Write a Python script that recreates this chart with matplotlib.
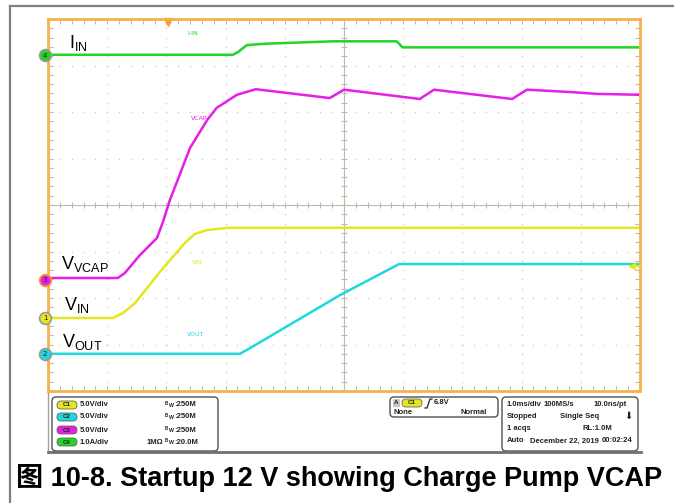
import numpy as np
import matplotlib.pyplot as plt
from matplotlib.patches import FancyBboxPatch

W, H = 674, 503

# time in divisions (1.0 ms/div), level in divisions from screen centre
iin_t = [0, 3.12, 3.21, 3.36, 3.70, 4.81, 5.89, 5.99, 10]
iin_v = [3.23, 3.23, 3.29, 3.44, 3.47, 3.52, 3.52, 3.39, 3.39]

vcap_t = [0, 1.18, 1.30, 1.55, 1.84, 1.94, 2.06, 2.23, 2.40, 2.69, 2.85, 3.19, 3.51,
          4.76, 5.00, 6.28, 6.52, 7.84, 8.09, 8.82, 9.27, 10]
vcap_v = [-1.57, -1.57, -1.46, -1.08, -0.71, -0.37, 0.11, 0.67, 1.23, 1.83, 2.09, 2.37, 2.49,
          2.30, 2.48, 2.28, 2.48, 2.28, 2.48, 2.43, 2.39, 2.37]

vin_t = [0, 1.10, 1.27, 1.47, 1.89, 2.31, 2.48, 2.69, 3.04, 10]
vin_v = [-2.43, -2.43, -2.32, -2.11, -1.44, -0.82, -0.62, -0.54, -0.49, -0.49]

vout_t = [0, 3.24, 3.41, 4.93, 5.93, 10]
vout_v = [-3.20, -3.20, -3.08, -1.94, -1.27, -1.27]

green = '#22d522'
magenta = '#e61ee6'
yellow = '#e6e61e'
cyan = '#1ed8e0'
grid_c = '#c2bbad'

fig = plt.figure(figsize=(W / 100, H / 100), dpi=100)

ax = fig.add_axes([48 / W, 1 - 391 / H, 592 / W, 372 / H])
ax.set_xlim(0, 10)
ax.set_ylim(-4, 4)
ax.set_xticks(np.arange(0, 10.01, 0.2))
ax.set_yticks(np.arange(-4, 4.01, 0.2))
ax.tick_params(direction='in', length=3.5, width=0.8, color=grid_c, top=True, right=True,
               labelbottom=False, labelleft=False)
for s in ax.spines.values():
    s.set_color('#f5b24a')
    s.set_linewidth(2)

# dotted graticule
for gx in range(1, 10):
    if gx == 5:
        continue
    ax.plot(np.full(41, gx), np.linspace(-4, 4, 41), ls='none', marker='s', ms=1.0, mew=0, color='#d2ccc0')
for gy in range(-3, 4):
    if gy == 0:
        continue
    ax.plot(np.linspace(0, 10, 51), np.full(51, gy), ls='none', marker='s', ms=1.0, mew=0, color='#d2ccc0')
ax.axvline(5, color=grid_c, lw=0.8)
ax.axhline(0, color=grid_c, lw=0.8)
ax.plot(np.linspace(0, 10, 51), np.zeros(51), ls='none', marker='|', ms=5, mew=0.8, color=grid_c)
ax.plot(np.full(41, 5), np.linspace(-4, 4, 41), ls='none', marker='_', ms=5, mew=0.8, color=grid_c)

ax.plot(iin_t, iin_v, color=green, lw=1.8)
ax.plot(vcap_t, vcap_v, color=magenta, lw=1.8)
ax.plot(vin_t, vin_v, color=yellow, lw=1.8)
ax.plot(vout_t, vout_v, color=cyan, lw=1.8)

ax.plot(2.03, 3.93, marker='v', ms=6, color='#f5a030', clip_on=False)

# overlay in pixel coordinates
ov = fig.add_axes([0, 0, 1, 1], zorder=3)
ov.set_xlim(0, W)
ov.set_ylim(H, 0)
ov.axis('off')

ov.plot([10, 10], [6, H], color='#808080', lw=1.6)
ov.plot([10, W], [6, 6], color='#808080', lw=1.6)

# trigger level arrow
ov.plot([630, 640], [266, 266], color=yellow, lw=1.5)
ov.plot(632, 266, marker='<', ms=5, color=yellow)

# channel markers
for num, yy, col, ec in [('4', 55, green, '#9a9a9a'), ('3', 280, magenta, '#f5a030'),
                         ('1', 318, yellow, '#9a9a9a'), ('2', 354, cyan, '#9a9a9a')]:
    ov.plot(45, yy, marker='o', ms=8.5, mfc=col, mec=ec, mew=1.2)
    ov.text(45, yy + 0.5, num, fontsize=5, ha='center', va='center', color='#222')

lab = dict(family='Liberation Sans', fontsize=13, color='black', ha='left', va='baseline')
ov.text(69, 48, r'$\mathregular{I_{IN}}$', **lab)
ov.text(61, 269, r'$\mathregular{V_{VCAP}}$', **lab)
ov.text(64, 310, r'$\mathregular{V_{IN}}$', **lab)
ov.text(62, 347, r'$\mathregular{V_{OUT}}$', **lab)

small = dict(fontsize=4.5, ha='center', va='center')
ov.text(193, 33, 'I-IN', color=green, **small)
ov.text(199, 118, 'VCAP', color=magenta, **small)
ov.text(197, 262, 'VIN', color=yellow, **small)
ov.text(196, 334, 'VOUT', color=cyan, **small)

# status panel
ov.plot([48, 48], [393, 452], color='#a0a0a0', lw=1)
ov.plot([48, 641], [452, 452], color='#707070', lw=2)
for x0, y0, w, h in [(52, 397, 166, 54), (390, 397, 108, 20), (502, 397, 136, 54)]:
    ov.add_patch(FancyBboxPatch((x0, y0), w, h, boxstyle='round,pad=0,rounding_size=4',
                                fc='white', ec='#505050', lw=1))

pt = dict(fontsize=5.5, fontweight='bold', family='Liberation Sans', va='center', color='#222')
rows = [(405, yellow, 'C1', '5.0V/div', '', '250M'),
        (417, cyan, 'C2', '5.0V/div', '', '250M'),
        (430, magenta, 'C3', '5.0V/div', '', '250M'),
        (442, green, 'C4', '1.0A/div', '1MΩ', '20.0M')]
for yy, col, ch, scale, imp, bw in rows:
    ov.add_patch(FancyBboxPatch((57, yy - 4), 20, 8, boxstyle='round,pad=0,rounding_size=4',
                                fc=col, ec='#666', lw=0.6))
    ov.text(67, yy, ch, ha='center', **dict(pt, fontsize=4.5))
    ov.text(80, yy, scale, ha='left', **pt)
    if imp:
        ov.text(147, yy, imp, ha='left', **pt)
    ov.text(165, yy - 1.5, 'B', ha='left', **dict(pt, fontsize=3.3))
    ov.text(168.8, yy + 0.8, 'W', ha='left', **dict(pt, fontsize=3.8))
    ov.text(174.3, yy, ':' + bw, ha='left', **pt)

ov.add_patch(FancyBboxPatch((393, 399), 7, 8, boxstyle='round,pad=0,rounding_size=1',
                            fc='#c8c8c8', ec='none'))
ov.text(396.5, 403, 'A', ha='center', **dict(pt, fontsize=4.5))
ov.add_patch(FancyBboxPatch((402, 399), 20, 8, boxstyle='round,pad=0,rounding_size=4',
                            fc=yellow, ec='#666', lw=0.6))
ov.text(412, 403, 'C1', ha='center', **dict(pt, fontsize=4.5))
ov.plot([425, 427, 430, 432], [408, 408, 399, 399], color='#222', lw=0.9)
ov.text(434, 403, '6.8V', ha='left', **pt)
ov.text(394, 413, 'None', ha='left', **pt)
ov.text(487, 413, 'Normal', ha='right', **pt)

ov.text(507, 404, '1.0ms/div', ha='left', **pt)
ov.text(544, 404, '100MS/s', ha='left', **pt)
ov.text(627, 404, '10.0ns/pt', ha='right', **pt)
ov.text(507, 416, 'Stopped', ha='left', **pt)
ov.text(560, 416, 'Single Seq', ha='left', **pt)
ov.text(628, 416, '⬇', ha='center', fontsize=7, va='center', color='#222', family='DejaVu Sans')
ov.text(507, 428, '1 acqs', ha='left', **pt)
ov.text(612, 428, 'RL:1.0M', ha='right', **pt)
ov.text(507, 441, 'Auto', ha='left', **pt)
ov.text(530, 441, 'December 22, 2019', ha='left', **pt)
ov.text(633, 441, '00:02:24', ha='right', **pt)

ov.text(339, 478, '图 10-8. Startup 12 V showing Charge Pump VCAP', ha='center', va='center',
        fontsize=19.5, fontweight='bold', family=['Liberation Sans', 'Noto Sans CJK SC'])

fig.savefig('out.png', dpi=100)
